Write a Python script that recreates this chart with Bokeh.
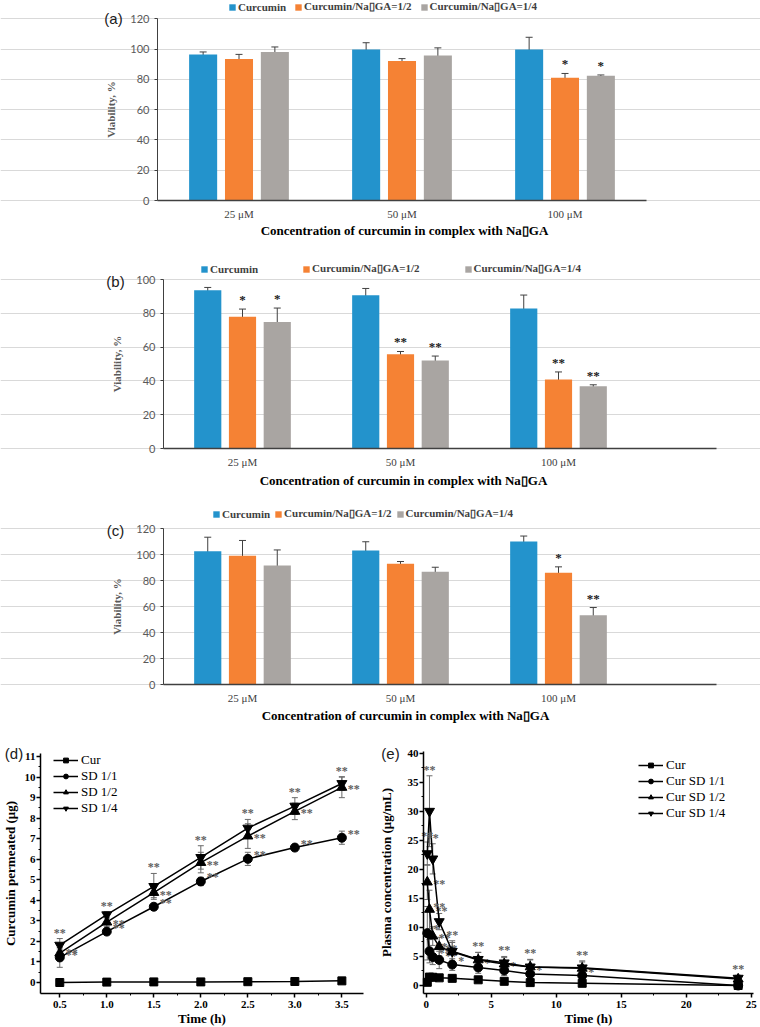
import numpy as np
from bokeh.plotting import figure
from bokeh.layouts import column, row
from bokeh.models import (ColumnDataSource, Whisker, TeeHead, Legend, LegendItem, Label,
                          FixedTicker, Range1d, LinearAxis, Grid)
from bokeh.core.properties import value
from bokeh.embed import file_html
from bokeh.resources import INLINE

# ---------------- data ----------------
categories = ["25 μM", "50 μM", "100 μM"]
series_names = ["Curcumin", "Curcumin/Na\u25afGA=1/2", "Curcumin/Na\u25afGA=1/4"]
bar_xlabel = "Concentration of curcumin in complex with Na\u25afGA"
bar_ylabel = "Viability, %"

a_cur = [96.5, 99.8, 99.8]
a_cur_err = [1.6, 4.4, 8.0]
a_12 = [93.4, 92.1, 81.1]
a_12_err = [3.1, 1.6, 2.8]
a_14 = [98.0, 95.8, 82.4]
a_14_err = [3.4, 5.0, 0.5]
a_sig_cur = ["", "", ""]
a_sig_12 = ["", "", "*"]
a_sig_14 = ["", "", "*"]

b_cur = [93.7, 90.7, 82.8]
b_cur_err = [1.6, 4.0, 8.0]
b_12 = [78.0, 55.8, 40.8]
b_12_err = [4.5, 1.6, 4.5]
b_14 = [74.9, 52.1, 36.8]
b_14_err = [8.2, 2.6, 0.9]
b_sig_cur = ["", "", ""]
b_sig_12 = ["*", "**", "**"]
b_sig_14 = ["*", "**", "**"]

c_cur = [102.5, 103.0, 110.0]
c_cur_err = [10.8, 6.8, 4.2]
c_12 = [99.0, 92.8, 85.9]
c_12_err = [11.8, 1.8, 4.6]
c_14 = [91.5, 86.7, 53.3]
c_14_err = [12.0, 3.5, 5.9]
c_sig_cur = ["", "", ""]
c_sig_12 = ["", "", "*"]
c_sig_14 = ["", "", "**"]

# (d) permeation
d_time = [0.5, 1.0, 1.5, 2.0, 2.5, 3.0, 3.5]
d_cur = [0.0, 0.02, 0.03, 0.03, 0.04, 0.05, 0.08]
d_cur_err = [0.0, 0.0, 0.0, 0.0, 0.0, 0.0, 0.0]
d_11 = [1.22, 2.48, 3.69, 4.92, 6.02, 6.57, 7.05]
d_11_err = [0.48, 0.1, 0.1, 0.2, 0.32, 0.15, 0.32]
d_12 = [1.43, 2.94, 4.38, 5.84, 7.13, 8.33, 9.5]
d_12_err = [0.2, 0.2, 0.25, 0.5, 0.6, 0.4, 0.5]
d_14 = [1.82, 3.3, 4.68, 6.09, 7.52, 8.59, 9.69]
d_14_err = [0.32, 0.15, 0.63, 0.57, 0.42, 0.41, 0.33]
d_names = ["Cur", "SD 1/1", "SD 1/2", "SD 1/4"]
d_sig_11 = ["**"] * 7
d_sig_12 = ["**"] * 7
d_sig_14 = ["**"] * 7
d_xticks = [0.5, 1.0, 1.5, 2.0, 2.5, 3.0, 3.5]
d_yticks = list(range(0, 12))

# (e) pharmacokinetics
e_time = [0.083, 0.25, 0.5, 1, 2, 4, 6, 8, 12, 24]
e_cur = [0.55, 1.45, 1.42, 1.32, 1.23, 0.98, 0.72, 0.5, 0.38, 0.0]
e_cur_err = [0.2, 0.3, 0.2, 0.2, 0.2, 0.2, 0.15, 0.15, 0.1, 0.05]
e_11 = [9.0, 5.9, 4.9, 4.4, 3.6, 3.1, 2.6, 2.0, 1.72, 0.0]
e_11_err = [4.6, 2.0, 1.3, 1.5, 1.0, 1.0, 0.9, 0.8, 0.5, 0.3]
e_12 = [17.8, 13.1, 8.5, 6.7, 5.8, 4.4, 3.7, 3.2, 2.95, 1.1]
e_12_err = [3.0, 3.3, 1.6, 1.6, 1.6, 1.3, 1.1, 1.2, 1.1, 0.4]
e_14 = [22.7, 30.0, 21.8, 11.0, 5.9, 4.5, 3.9, 3.2, 3.04, 1.26]
e_14_err = [2.0, 6.1, 2.6, 1.4, 1.8, 1.2, 1.1, 1.3, 1.2, 0.5]
e_names = ["Cur", "Cur SD 1/1", "Cur SD 1/2", "Cur SD 1/4"]
e_sig_11 = ["*", "**", "**", "**", "*", "*", "*", "*", "*", ""]
e_sig_12 = ["**", "**", "**", "**", "", "", "", "", "", ""]
e_sig_14 = ["**"] * 10
e_xticks = [0, 5, 10, 15, 20, 25]
e_yticks = list(range(0, 41, 5))

# ---------------- style ----------------
BLUE, ORANGE, GRAY = "#2393CC", "#F58234", "#A9A5A2"
SERIF = "Liberation Serif"
SANS = "Liberation Sans"
PAGE_W = 760


def base_figure(W, H, rect, xlim, ylim):
    """Figure whose frame is the whole canvas; rect (l, t, r, b) in px holds xlim x ylim."""
    l, t, r, b = rect
    (x0, x1), (y0, y1) = xlim, ylim
    kx = (x1 - x0) / (r - l)
    ky = (y1 - y0) / (b - t)
    xr = Range1d(x0 - l * kx, x1 + (W - r) * kx)
    yr = Range1d(y0 - (H - b) * ky, y1 + t * ky)
    p = figure(width=W, height=H, x_range=xr, y_range=yr, output_backend="svg",
               toolbar_location=None, x_axis_location=None, y_axis_location=None, min_border=0)
    p.grid.visible = False
    p.outline_line_color = None
    p.background_fill_color = "white"
    p.border_fill_color = "white"
    return p


def screen_label(p, text, x, y, font, size, style="normal", color="black", align="center", angle=0.0):
    p.add_layout(Label(x=x, y=y, x_units="screen", y_units="screen", text=text, text_font=font,
                       text_font_size=size, text_font_style=style, text_color=color,
                       text_align=align, text_baseline="middle", angle=angle))


def bar_panel(tag, vals, errs, sigs, ymax, n_slots, H, rect, legend_xy, legend_spacing,
              tag_xy, title_xy):
    p = base_figure(PAGE_W, H, rect, (0, n_slots), (0, ymax))
    ncat = len(categories)

    yticker = FixedTicker(ticks=list(range(0, ymax + 1, 20)))
    p.add_layout(Grid(dimension=1, ticker=yticker, bounds=(0, n_slots),
                      grid_line_color="#D9D9D9", grid_line_width=1))

    offsets = [-0.22, 0.0, 0.22]
    colors = [BLUE, ORANGE, GRAY]
    items = []
    for j in range(3):
        xs = [i + 0.5 + offsets[j] for i in range(ncat)]
        hi = [v + e for v, e in zip(vals[j], errs[j])]
        lo = [v - e for v, e in zip(vals[j], errs[j])]
        src = ColumnDataSource(dict(x=xs, top=vals[j], hi=hi, lo=lo, sig=sigs[j]))
        r = p.vbar(x="x", top="top", width=0.172, source=src, fill_color=colors[j], line_color=None)
        p.add_layout(Whisker(base="x", upper="hi", lower="lo", source=src, line_color="#404040",
                             line_width=1,
                             upper_head=TeeHead(size=7, line_color="#404040", line_width=1),
                             lower_head=TeeHead(size=7, line_color="#404040", line_width=1)))
        p.text(x="x", y="hi", text="sig", source=src, text_align="center", text_baseline="bottom",
               y_offset=-2, text_font=value(SERIF), text_font_size="13px", text_font_style="bold",
               text_color="#202020")
        items.append(LegendItem(label=series_names[j], renderers=[r]))

    xax = LinearAxis(fixed_location=0, bounds=(0, n_slots),
                     ticker=FixedTicker(ticks=[i + 0.5 for i in range(ncat)]),
                     major_label_overrides={i + 0.5: c for i, c in enumerate(categories)})
    xax.major_tick_line_color = None
    xax.minor_tick_line_color = None
    xax.major_tick_out = 0
    xax.major_tick_in = 0
    xax.minor_tick_out = 0
    xax.axis_line_color = "#404040"
    xax.axis_line_width = 1.5
    xax.major_label_text_font = SERIF
    xax.major_label_text_font_size = "11px"
    xax.major_label_text_color = "#404040"
    xax.major_label_standoff = 7
    p.add_layout(xax, "below")

    yax = LinearAxis(fixed_location=0, bounds=(0, ymax), ticker=yticker)
    yax.major_label_text_font = "Lato"
    yax.major_label_text_font_size = "11px"
    yax.major_label_text_color = "#595959"
    yax.axis_line_color = "#404040"
    yax.axis_line_width = 1
    yax.major_tick_line_color = "#404040"
    yax.major_tick_out = 3
    yax.major_tick_in = 0
    yax.minor_tick_line_color = None
    yax.minor_tick_out = 0
    yax.major_label_standoff = 5
    yax.axis_label = bar_ylabel
    yax.axis_label_text_font = SERIF
    yax.axis_label_text_font_size = "11px"
    yax.axis_label_text_font_style = "bold"
    yax.axis_label_text_color = "#595959"
    yax.axis_label_standoff = 10
    p.add_layout(yax, "left")

    leg = Legend(items=items, location=legend_xy, orientation="horizontal", glyph_width=8,
                 glyph_height=8, label_standoff=2, spacing=legend_spacing, padding=0, margin=0,
                 border_line_color=None, background_fill_alpha=0, label_height=10,
                 label_text_font=SERIF, label_text_font_size="11px", label_text_font_style="bold",
                 label_text_color="#404040")
    p.add_layout(leg)

    screen_label(p, tag, tag_xy[0], tag_xy[1], SANS, "15px", color="#202020")
    screen_label(p, bar_xlabel, title_xy[0], title_xy[1], SERIF, "13px", style="bold")
    return p


# page y: a 0..240, b 240..488, c 488..724, d/e 724..1027
fa = bar_panel("(a)", [a_cur, a_12, a_14], [a_cur_err, a_12_err, a_14_err],
               [a_sig_cur, a_sig_12, a_sig_14], 120, 3, 240, (157, 18.3, 646, 200),
               (228, 227), 8, (113, 222), (404, 10))
fb = bar_panel("(b)", [b_cur, b_12, b_14], [b_cur_err, b_12_err, b_14_err],
               [b_sig_cur, b_sig_12, b_sig_14], 100, 3.5, 248, (163, 39, 716, 208),
               (200, 213), 44, (115, 207), (403, 8))
fc = bar_panel("(c)", [c_cur, c_12, c_14], [c_cur_err, c_12_err, c_14_err],
               [c_sig_cur, c_sig_12, c_sig_14], 120, 3.5, 236, (163, 40, 716, 196),
               (212, 204), 4, (115, 194), (405, 9))


def line_panel(tag, t, series, errs, sigs, names, W, H, rect, xlim, ylim, xticks, xminor,
               yticks, yminor, xfmt, legend_xy, legend_spacing, tag_xy, ytitle, ystandoff):
    p = base_figure(W, H, rect, xlim, ylim)
    markers = ["square", "circle", "triangle", "inverted_triangle"]
    sizes = [8, 9, 10, 10]
    items = []
    for k in range(4):
        hi = [v + e for v, e in zip(series[k], errs[k])]
        lo = [v - e for v, e in zip(series[k], errs[k])]
        src = ColumnDataSource(dict(x=t, y=series[k], hi=hi, lo=lo))
        p.add_layout(Whisker(base="x", upper="hi", lower="lo", source=src, line_color="#6a6a6a",
                             line_width=1,
                             upper_head=TeeHead(size=6, line_color="#6a6a6a", line_width=1),
                             lower_head=TeeHead(size=6, line_color="#6a6a6a", line_width=1)))
        ln = p.line(x="x", y="y", source=src, line_color="black", line_width=1.5)
        sc = p.scatter(x="x", y="y", source=src, marker=markers[k], size=sizes[k],
                       fill_color="black", line_color="black")
        items.append(LegendItem(label=names[k], renderers=[ln, sc]))
        if k >= 1:
            ssrc = ColumnDataSource(dict(x=t, y=series[k], hi=hi, sig=sigs[k - 1]))
            common = dict(source=ssrc, text="sig", text_font=value(SERIF), text_font_size="12px",
                          text_font_style="bold", text_color="#606060")
            if k == 3:
                p.text(x="x", y="hi", text_align="center", text_baseline="bottom", y_offset=1, **common)
            elif k == 2:
                p.text(x="x", y="y", text_align="left", text_baseline="middle", x_offset=6, y_offset=2,
                       **common)
            else:
                p.text(x="x", y="y", text_align="left", text_baseline="middle", x_offset=6, y_offset=-4,
                       **common)

    (x0, x1), (y0, y1) = xlim, ylim
    xax = LinearAxis(fixed_location=y0, bounds=(x0, x1),
                     ticker=FixedTicker(ticks=xticks, minor_ticks=xminor),
                     major_label_overrides={v: xfmt.format(v) for v in xticks})
    yax = LinearAxis(fixed_location=x0, bounds=(y0, y1),
                     ticker=FixedTicker(ticks=yticks, minor_ticks=yminor))
    for ax in (xax, yax):
        ax.axis_line_color = "black"
        ax.axis_line_width = 1.5
        ax.major_tick_line_color = "black"
        ax.major_tick_line_width = 1.5
        ax.minor_tick_line_color = "black"
        ax.minor_tick_line_width = 1
        ax.major_tick_out = 4
        ax.major_tick_in = 0
        ax.minor_tick_out = 2
        ax.minor_tick_in = 0
        ax.major_label_text_font = SERIF
        ax.major_label_text_font_size = "11px"
        ax.major_label_text_font_style = "bold"
        ax.major_label_text_color = "black"
        ax.axis_label_text_font = SERIF
        ax.axis_label_text_font_size = "13px"
        ax.axis_label_text_font_style = "bold"
        ax.axis_label_text_color = "black"
    xax.major_label_standoff = 3
    xax.axis_label = "Time (h)"
    xax.axis_label_standoff = 0
    yax.major_label_standoff = 1
    yax.axis_label = ytitle
    yax.axis_label_standoff = ystandoff
    p.add_layout(xax, "below")
    p.add_layout(yax, "left")

    leg = Legend(items=items, location=legend_xy, orientation="vertical", glyph_width=25,
                 glyph_height=12, label_standoff=3, spacing=legend_spacing, padding=0, margin=0,
                 border_line_color=None, background_fill_alpha=0, label_height=12,
                 label_text_font=SERIF, label_text_font_size="13px", label_text_color="black")
    p.add_layout(leg)
    screen_label(p, tag, tag_xy[0], tag_xy[1], SANS, "15px", color="#202020")
    return p


fd = line_panel("(d)", d_time, [d_cur, d_11, d_12, d_14], [d_cur_err, d_11_err, d_12_err, d_14_err],
                [d_sig_11, d_sig_12, d_sig_14], d_names, 380, 303, (40, 29, 363, 269),
                (0.295, 3.73), (-0.535, 11.15), d_xticks, list(np.arange(0.75, 3.5, 0.5)),
                d_yticks, list(np.arange(0.5, 11, 1.0)), "{:.1f}", (53, 211), -5,
                (13.5, 274), "Curcumin permeated (\u03bcg)", 4)

fe = line_panel("(e)", e_time, [e_cur, e_11, e_12, e_14], [e_cur_err, e_11_err, e_12_err, e_14_err],
                [e_sig_11, e_sig_12, e_sig_14], e_names, 380, 303, (43, 27, 373, 269),
                (-0.21, 25.18), (-1.377, 40.28), e_xticks, list(np.arange(2.5, 25, 5.0)),
                e_yticks, list(np.arange(2.5, 40, 5.0)), "{:.0f}", (258, 206), -5,
                (10, 274), "Plasma concentration (\u03bcg/mL)", 11)

layout = column(fa, fb, fc, row(fd, fe))
open("out.html", "w").write(file_html(layout, INLINE))
